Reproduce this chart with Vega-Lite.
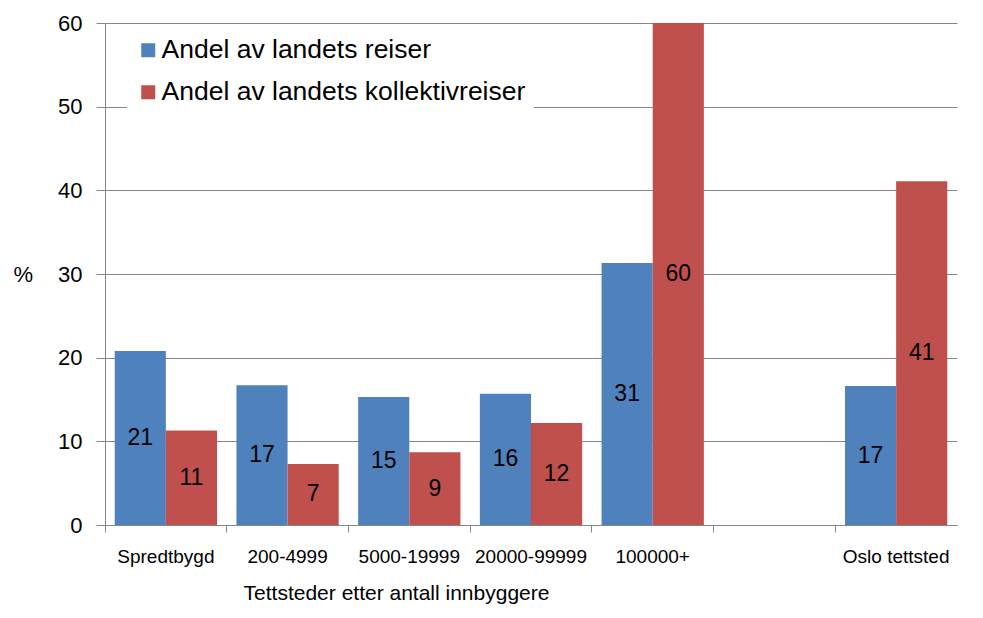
{
  "$schema": "https://vega.github.io/schema/vega-lite/v6.json",
  "width": 852,
  "height": 502,
  "autosize": {"type": "none"},
  "padding": {"left": 105, "top": 23, "right": 26, "bottom": 93},
  "background": "white",
  "config": {"view": {"stroke": null}, "font": "Liberation Sans"},
  "data": {
    "values": [
      {"kategori": "Spredtbygd", "serie": "Andel av landets reiser", "verdi": 20.8},
      {"kategori": "Spredtbygd", "serie": "Andel av landets kollektivreiser", "verdi": 11.3},
      {"kategori": "200-4999", "serie": "Andel av landets reiser", "verdi": 16.7},
      {"kategori": "200-4999", "serie": "Andel av landets kollektivreiser", "verdi": 7.3},
      {"kategori": "5000-19999", "serie": "Andel av landets reiser", "verdi": 15.3},
      {"kategori": "5000-19999", "serie": "Andel av landets kollektivreiser", "verdi": 8.7},
      {"kategori": "20000-99999", "serie": "Andel av landets reiser", "verdi": 15.7},
      {"kategori": "20000-99999", "serie": "Andel av landets kollektivreiser", "verdi": 12.2},
      {"kategori": "100000+", "serie": "Andel av landets reiser", "verdi": 31.3},
      {"kategori": "100000+", "serie": "Andel av landets kollektivreiser", "verdi": 60},
      {"kategori": "Oslo tettsted", "serie": "Andel av landets reiser", "verdi": 16.6},
      {"kategori": "Oslo tettsted", "serie": "Andel av landets kollektivreiser", "verdi": 41.1}
    ]
  },
  "encoding": {
    "x": {
      "field": "kategori",
      "type": "nominal",
      "sort": null,
      "scale": {
        "domain": ["Spredtbygd", "200-4999", "5000-19999", "20000-99999", "100000+", " ", "Oslo tettsted"],
        "paddingInner": 0,
        "paddingOuter": 0
      },
      "axis": {
        "bandPosition": 0,
        "tickSize": 7,
        "domainColor": "#868686",
        "tickColor": "#868686",
        "labelAngle": 0,
        "labelFontSize": 19,
        "labelColor": "black",
        "labelPadding": 15,
        "title": "Tettsteder etter antall innbyggere",
        "titleFontSize": 21,
        "titleFontWeight": "normal",
        "titleColor": "black",
        "titleX": 291,
        "titlePadding": 16
      }
    },
    "xOffset": {
      "field": "serie",
      "type": "nominal",
      "sort": null,
      "scale": {
        "domain": ["Andel av landets reiser", "Andel av landets kollektivreiser"],
        "paddingOuter": 0.19,
        "paddingInner": 0
      }
    }
  },
  "layer": [
    {
      "mark": {"type": "bar"},
      "encoding": {
        "y": {
          "field": "verdi",
          "type": "quantitative",
          "scale": {"domain": [0, 60]},
          "axis": {
            "values": [0, 10, 20, 30, 40, 50, 60],
            "grid": true,
            "gridColor": "#868686",
            "domainColor": "#868686",
            "tickColor": "#868686",
            "tickSize": 9,
            "labelFontSize": 22,
            "labelColor": "black",
            "labelPadding": 14,
            "title": "%",
            "titleAngle": 0,
            "titleAlign": "left",
            "titleBaseline": "middle",
            "titleX": -92,
            "titleY": 251,
            "titleFontSize": 22,
            "titleFontWeight": "normal",
            "titleColor": "black"
          }
        },
        "color": {
          "field": "serie",
          "type": "nominal",
          "sort": null,
          "scale": {
            "domain": ["Andel av landets reiser", "Andel av landets kollektivreiser"],
            "range": ["#4F81BD", "#C0504D"]
          },
          "legend": {
            "orient": "none",
            "legendX": 22,
            "legendY": 6,
            "title": null,
            "fillColor": "white",
            "padding": 8,
            "symbolType": "square",
            "symbolSize": 196,
            "symbolStrokeWidth": 0,
            "symbolOpacity": 1,
            "labelFontSize": 26.5,
            "labelColor": "black",
            "labelOffset": 0,
            "rowPadding": 15,
            "labelLimit": 600
          }
        }
      }
    },
    {
      "mark": {"type": "text", "fontSize": 23, "baseline": "middle", "align": "center", "color": "black"},
      "encoding": {
        "y": {"field": "verdi", "type": "quantitative", "stack": "zero", "bandPosition": 0.5},
        "detail": {"field": "serie"},
        "text": {"field": "verdi", "type": "quantitative", "format": ".0f"}
      }
    }
  ]
}
